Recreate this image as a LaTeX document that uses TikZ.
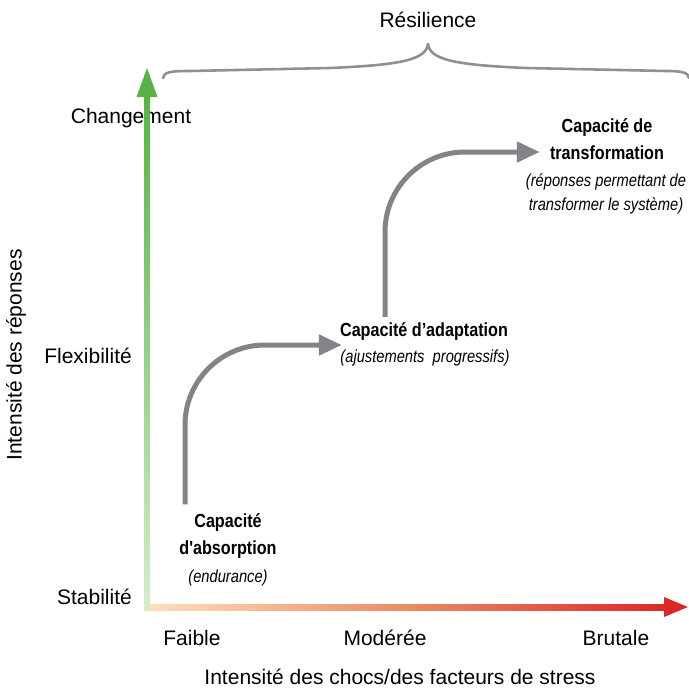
\documentclass[tikz,border=0pt]{standalone}
\usepackage{fontspec}
\setmainfont{Liberation Sans}
\newfontfamily\capfont{Liberation Sans}[FakeStretch=0.85]
\newfontfamily\notefont{Liberation Sans}[FakeStretch=0.84]
\usetikzlibrary{arrows.meta, positioning, calc}
\definecolor{axisgreen}{RGB}{88, 178, 72}
\definecolor{axisgreenlight}{RGB}{214, 236, 204}
\definecolor{axispeach}{RGB}{253, 222, 188}
\definecolor{axisorange}{RGB}{234, 140, 100}
\definecolor{axisred}{RGB}{222, 40, 40}
\definecolor{stepgray}{RGB}{132, 132, 136}

\begin{document}
\begin{tikzpicture}[
  x=1pt, y=-1pt,
  lbl/.style={font=\fontsize{21}{25}\selectfont, inner sep=0pt},
  captitle/.style={font=\capfont\bfseries\fontsize{19}{27}\selectfont, align=center, inner sep=0pt},
  capnote/.style={font=\notefont\itshape\fontsize{17.5}{24}\selectfont, align=center, inner sep=0pt},
  stairarrow/.style={draw=stepgray, line width=5pt, rounded corners=80pt, -{Triangle[length=23pt, width=20pt]}},
  brace/.style={draw=stepgray!90, line width=2.6pt, line cap=round}
]
  \useasboundingbox (0,0) rectangle (689,689);

  % Axis labels
  \node[lbl] (change) at (131,118) {Changement};
  \node[lbl, anchor=east] (flex) at (132,356) {Flexibilité};
  \node[lbl, anchor=east] (stab) at (132,597) {Stabilité};
  \node[lbl, rotate=90] (ylabel) at (16,355) {Intensité des réponses};
  \node[lbl] (faible) at (192,638) {Faible};
  \node[lbl] (moderee) at (385,638) {Modérée};
  \node[lbl] (brutale) at (616,638) {Brutale};
  \node[lbl] (xlabel) at (400,677) {Intensité des chocs/des facteurs de stress};

  % Axes
  \coordinate (origin) at (147,607);
  \coordinate (ytip) at (147,68);
  \coordinate (xtip) at (688,607);
  \shade[bottom color=axisgreenlight, top color=axisgreen] (144,610) rectangle (150,96);
  \fill[axisgreen] (136.5,97) -- (157.5,97) -- (ytip) -- cycle;
  \shade[left color=axispeach, right color=axisred, middle color=axisorange] (150,604) rectangle (665,610);
  \fill[axisred] (664,597) -- (664,617) -- (xtip) -- cycle;

  % Capacities
  \node[captitle] (absorb) at (228,536) {Capacité\\d'absorption};
  \node[capnote] (absorbnote) at (228,578) {(endurance)};
  \node[captitle] (adapt) at (424,331) {Capacité d’adaptation};
  \node[capnote] (adaptnote) at (425,358) {(ajustements\ \ progressifs)};
  \node[captitle] (transf) at (607,139) {Capacité de\\transformation};
  \node[capnote] (transfnote) at (606,194) {(réponses permettant de\\transformer le système)};

  % Steps between capacities
  \draw[stairarrow] ([xshift=-43pt, yshift=9pt]absorb.north) |- ([xshift=2pt, yshift=-14pt]adapt.west);
  \draw[stairarrow] ([xshift=-39pt, yshift=5pt]adapt.north) |- ([xshift=-10pt, yshift=-13pt]transf.west);

  % Resilience brace
  \node[lbl] (resil) at (428,20) {Résilience};
  \draw[brace] (163,78) .. controls (164,72) and (170,71) .. (190,71) -- (330,68)
    .. controls (400,65) and (426,60) .. (428,44);
  \draw[brace] (428,44) .. controls (430,60) and (456,65) .. (526,68) -- (666,71)
    .. controls (684,71) and (688,73) .. (689,78);
\end{tikzpicture}
\end{document}
